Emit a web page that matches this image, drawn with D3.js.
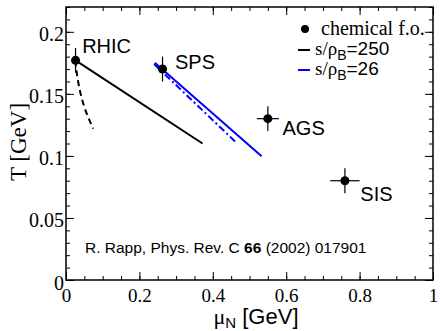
<!DOCTYPE html>
<html>
<head>
<meta charset="utf-8">
<script src="https://cdn.jsdelivr.net/npm/d3@7"></script>
<style>
  body { margin: 0; background: #fff; }
  svg { display: block; }
</style>
</head>
<body>
<div id="chart"></div>
<script>
// chemical freeze-out points
const foNames = ["RHIC", "SPS", "AGS", "SIS"];
const foMu = [0.026, 0.263, 0.55, 0.76];
const foT = [0.177, 0.170, 0.130, 0.080];
const foErrMu = [0, 0.01, 0.03, 0.04];
const foErrT = [0.01, 0.01, 0.01, 0.01];

// isentropic trajectories
const rhicSolid = [[0.026, 0.177], [0.372, 0.110]];
const rhicDashed = [[0.026, 0.177], [0.028, 0.169], [0.034, 0.158], [0.041, 0.148],
                    [0.052, 0.137], [0.065, 0.128], [0.074, 0.122]];
const spsSolid = [[0.242, 0.175], [0.533, 0.0997]];
const spsDashDot = [[0.24, 0.174], [0.463, 0.111]];

const xTicks = [0, 0.2, 0.4, 0.6, 0.8, 1];
const yTicks = [0, 0.05, 0.1, 0.15, 0.2];

const width = 440, height = 331;
const margin = {top: 7, right: 7, bottom: 51, left: 66};
const innerW = width - margin.left - margin.right;
const innerH = height - margin.top - margin.bottom;

const serif = "Liberation Serif, Times New Roman, serif";
const sans = "Liberation Sans, Arial, sans-serif";

const xScale = d3.scaleLinear().domain([0, 1]).range([0, innerW]);
const yScale = d3.scaleLinear().domain([0, 0.22]).range([innerH, 0]);

const svg = d3.select("#chart").append("svg")
    .attr("width", width)
    .attr("height", height);

const g = svg.append("g")
    .attr("transform", `translate(${margin.left},${margin.top})`);

// ticks: major + minor, inward, on all four sides
const xMinor = d3.range(0, 1.0001, 0.05);
const yMinor = d3.range(0, 0.2201, 0.01);

g.append("g").attr("transform", `translate(0,${innerH})`)
    .call(d3.axisBottom(xScale).tickValues(xMinor).tickSize(-4).tickFormat(""));
const bottomMajor = g.append("g").attr("transform", `translate(0,${innerH})`)
    .call(d3.axisBottom(xScale).tickValues(xTicks).tickSize(-8).tickPadding(9)
        .tickFormat(d3.format("")));
g.append("g")
    .call(d3.axisTop(xScale).tickValues(xMinor).tickSize(-4).tickFormat(""));
g.append("g")
    .call(d3.axisTop(xScale).tickValues(xTicks).tickSize(-8).tickFormat(""));

g.append("g")
    .call(d3.axisLeft(yScale).tickValues(yMinor).tickSize(-4).tickFormat(""));
const leftMajor = g.append("g")
    .call(d3.axisLeft(yScale).tickValues(yTicks).tickSize(-8).tickPadding(2)
        .tickFormat(d3.format("")));
g.append("g").attr("transform", `translate(${innerW},0)`)
    .call(d3.axisRight(yScale).tickValues(yMinor).tickSize(-4).tickFormat(""));
g.append("g").attr("transform", `translate(${innerW},0)`)
    .call(d3.axisRight(yScale).tickValues(yTicks).tickSize(-8).tickFormat(""));

g.selectAll(".domain").remove();
g.selectAll(".tick line").attr("stroke", "#000").attr("stroke-width", 1);
g.selectAll(".tick text")
    .attr("fill", "#000")
    .attr("font-family", serif)
    .attr("font-size", 20);
bottomMajor.selectAll(".tick text").attr("font-size", 19).attr("dy", "0.7em");
leftMajor.selectAll(".tick text").attr("dy", "0.45em");

// frame
g.append("rect")
    .attr("width", innerW).attr("height", innerH)
    .attr("fill", "none").attr("stroke", "#000").attr("stroke-width", 1.5);

const line = d3.line().x(d => xScale(d[0])).y(d => yScale(d[1]));
const curve = d3.line().x(d => xScale(d[0])).y(d => yScale(d[1])).curve(d3.curveBasis);

g.append("path").attr("d", line(rhicSolid))
    .attr("fill", "none").attr("stroke", "#000").attr("stroke-width", 2);
g.append("path").attr("d", curve(rhicDashed))
    .attr("fill", "none").attr("stroke", "#000").attr("stroke-width", 2)
    .attr("stroke-dasharray", "6,4");
g.append("path").attr("d", line(spsSolid))
    .attr("fill", "none").attr("stroke", "#0000ff").attr("stroke-width", 2);
g.append("path").attr("d", line(spsDashDot))
    .attr("fill", "none").attr("stroke", "#0000ff").attr("stroke-width", 2)
    .attr("stroke-dasharray", "7,3,2,3");

// data points with error bars
foMu.forEach((mu, i) => {
    const cx = xScale(mu), cy = yScale(foT[i]);
    g.append("line")
        .attr("x1", cx).attr("x2", cx)
        .attr("y1", yScale(foT[i] - foErrT[i])).attr("y2", yScale(foT[i] + foErrT[i]))
        .attr("stroke", "#000").attr("stroke-width", 1.2);
    if (foErrMu[i] > 0) {
        g.append("line")
            .attr("x1", xScale(mu - foErrMu[i])).attr("x2", xScale(mu + foErrMu[i]))
            .attr("y1", cy).attr("y2", cy)
            .attr("stroke", "#000").attr("stroke-width", 1.2);
    }
    g.append("circle").attr("cx", cx).attr("cy", cy).attr("r", 4.5).attr("fill", "#000");
});

// point labels
const labelPos = [[0.044, 0.183], [0.297, 0.170], [0.59, 0.117], [0.802, 0.064]];
foNames.forEach((name, i) => {
    g.append("text")
        .attr("x", xScale(labelPos[i][0])).attr("y", yScale(labelPos[i][1]))
        .attr("font-family", sans)
        .attr("font-size", 20)
        .text(name);
});

// legend
const legend = svg.append("g").attr("transform", "translate(297,0)");
legend.append("circle").attr("cx", 8).attr("cy", 29).attr("r", 4).attr("fill", "#000");
legend.append("text").attr("x", 24).attr("y", 35)
    .attr("font-family", serif).attr("font-size", 20)
    .text("chemical f.o.");

const legendLines = [{color: "#000", label: "250", y: 50}, {color: "#0000ff", label: "26", y: 70}];
legendLines.forEach(d => {
    legend.append("line").attr("x1", 1).attr("x2", 13).attr("y1", d.y).attr("y2", d.y)
        .attr("stroke", d.color).attr("stroke-width", 2);
    const t = legend.append("text").attr("x", 18).attr("y", d.y + 5)
        .attr("font-size", 19);
    t.append("tspan").attr("font-family", serif).text("s/ρ");
    t.append("tspan").attr("font-family", sans)
        .attr("font-size", 14).attr("dy", 5).text("B");
    t.append("tspan").attr("font-family", sans)
        .attr("dy", -5).text("=" + d.label);
});

// citation
const cite = svg.append("text").attr("x", 85).attr("y", 253)
    .attr("font-family", sans).attr("font-size", 15.5);
cite.append("tspan").text("R. Rapp, Phys. Rev. C  ");
cite.append("tspan").attr("font-weight", "bold").text("66");
cite.append("tspan").text(" (2002) 017901");

// axis titles
const xt = svg.append("text")
    .attr("x", 256).attr("y", 324)
    .attr("text-anchor", "middle").attr("font-size", 22);
xt.append("tspan").attr("font-family", serif).text("μ");
xt.append("tspan").attr("font-family", sans)
    .attr("font-size", 15).attr("dy", 4).text("N");
xt.append("tspan").attr("font-family", sans)
    .attr("dy", -4).text(" [GeV]");

svg.append("text")
    .attr("transform", `translate(26,142) rotate(-90)`)
    .attr("text-anchor", "middle")
    .attr("font-family", serif).attr("font-size", 23)
    .text("T [GeV]");
</script>
</body>
</html>
